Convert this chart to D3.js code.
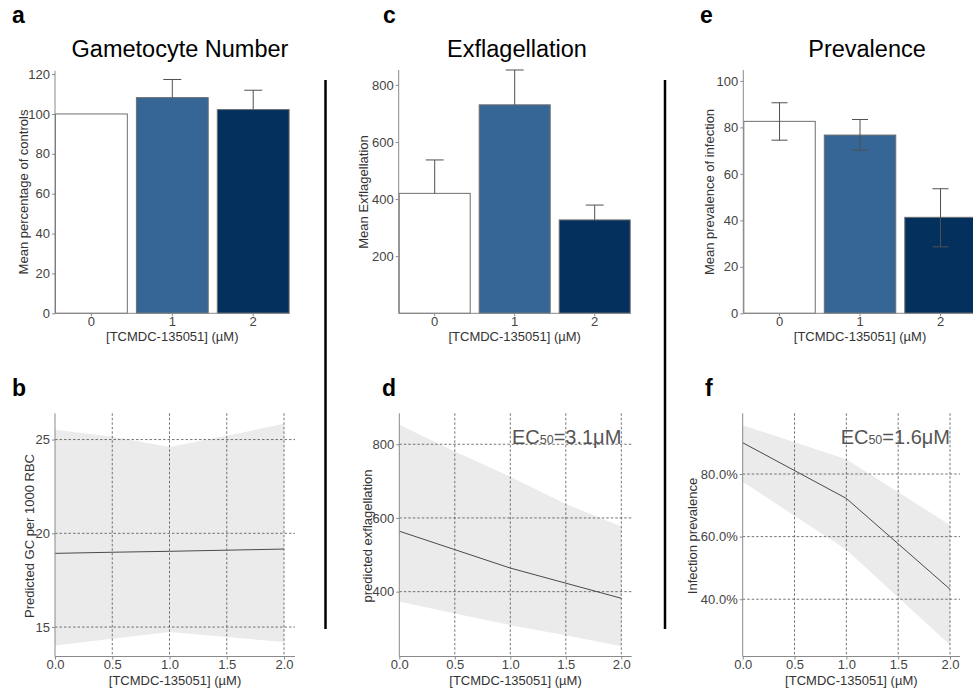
<!DOCTYPE html>
<html>
<head>
<meta charset="utf-8">
<script src="https://cdn.jsdelivr.net/npm/d3@7"></script>
<style>
  body { margin: 0; background: #fff; }
  svg { display: block; font-family: "Liberation Sans", Arial, sans-serif; }
  .tick text { fill: #444; font-size: 13px; }
  .tick line { stroke: #8a8a8a; }
  .axis-line { stroke: #8a8a8a; stroke-width: 1; }
  .axis-title { fill: #333; font-size: 13px; }
  .x-title { fill: #333; font-size: 13px; }
  .panel-title { fill: #000; font-size: 23.5px; }
  .panel-letter { fill: #000; font-size: 23px; font-weight: bold; }
  .grid { stroke: #505050; stroke-width: 0.8; stroke-dasharray: 2.5,2; }
  .ec50 { fill: #555; font-size: 20px; }
</style>
</head>
<body>
<svg id="chart" width="973" height="695"></svg>
<script>
// top row: bar charts
const doses = ['0', '1', '2']
const barColors = ['#ffffff', '#356696', '#04305e']

const gcMean = [100, 108.2, 102.2]
const gcHigh = [null, 117.3, 111.9]

const exflMean = [420, 730, 327]
const exflHigh = [537, 852, 379]

const prevMean = [82.6, 76.7, 41.3]
const prevLow = [74.5, 70.2, 28.6]
const prevHigh = [90.6, 83.4, 53.6]

// bottom row: model predictions
const conc5 = [0, 0.5, 1, 1.5, 2]
const conc3 = [0, 1, 2]

const gcFit = [18.93, 18.99, 19.04, 19.1, 19.16]
const gcFitLow = [14.02, 14.38, 14.73, 14.47, 14.2]
const gcFitHigh = [25.52, 25.15, 24.6, 25.2, 25.84]

const exflFit = [564, 514, 464, 423, 382]
const exflFitLow = [373, 341, 309, 282, 252]
const exflFitHigh = [853, 780, 712, 638, 577]

const prevFit = [0.90, 0.722, 0.432]
const prevFitLow = [0.775, 0.558, 0.254]
const prevFitHigh = [0.956, 0.847, 0.637]

const xLabel = '[TCMDC-135051] (\u00b5M)'

const $svg = d3.select('#chart')

function yTitle(x, y, text) {
  $svg.append('text')
    .attr('class', 'axis-title')
    .attr('transform', `translate(${x},${y}) rotate(-90)`)
    .attr('text-anchor', 'middle')
    .attr('dy', '0.35em')
    .text(text)
}

function barPanel(opt) {
  const xScale = d3.scaleBand()
    .domain(doses)
    .range([opt.x0 - opt.step * 0.05, opt.x0 + opt.step * 2.95])
    .paddingInner(0.1)
    .paddingOuter(0.05)
  const yScale = d3.scaleLinear()
    .domain([0, opt.yMax])
    .range([313.3, opt.yTopPx || 70])

  const $g = $svg.append('g')
  const rows = doses.map((d, i) => ({
    dose: d, mean: opt.mean[i],
    low: opt.low ? opt.low[i] : null,
    high: opt.high[i], color: barColors[i]
  }))

  $g.selectAll('.bar')
    .data(rows)
    .enter()
    .append('rect')
      .attr('class', 'bar')
      .attr('x', d => xScale(d.dose) + 0.5)
      .attr('y', d => yScale(d.mean))
      .attr('width', xScale.bandwidth() - 1)
      .attr('height', d => yScale(0) - yScale(d.mean))
      .attr('fill', d => d.color)
      .attr('stroke', '#6e6e6e')
      .attr('stroke-width', 1)

  const errs = rows.filter(d => d.high != null)
  const cx = d => xScale(d.dose) + xScale.bandwidth() / 2
  $g.selectAll('.err')
    .data(errs)
    .enter()
    .append('line')
      .attr('x1', cx).attr('x2', cx)
      .attr('y1', d => yScale(d.low != null ? d.low : d.mean))
      .attr('y2', d => yScale(d.high))
      .attr('stroke', '#505050')
  $g.selectAll('.cap-hi')
    .data(errs)
    .enter()
    .append('line')
      .attr('x1', d => cx(d) - opt.cap / 2).attr('x2', d => cx(d) + opt.cap / 2)
      .attr('y1', d => yScale(d.high)).attr('y2', d => yScale(d.high))
      .attr('stroke', '#505050')
  $g.selectAll('.cap-lo')
    .data(errs.filter(d => d.low != null))
    .enter()
    .append('line')
      .attr('x1', d => cx(d) - opt.cap / 2).attr('x2', d => cx(d) + opt.cap / 2)
      .attr('y1', d => yScale(d.low)).attr('y2', d => yScale(d.low))
      .attr('stroke', '#505050')

  // axes
  const xEnd = xScale(doses[2]) + xScale.bandwidth()
  $g.append('line').attr('class', 'axis-line')
    .attr('x1', opt.x0).attr('x2', xEnd)
    .attr('y1', yScale(0)).attr('y2', yScale(0))
  $g.append('line').attr('class', 'axis-line')
    .attr('x1', opt.x0).attr('x2', opt.x0)
    .attr('y1', yScale.range()[0]).attr('y2', yScale.range()[1])

  $g.append('g')
    .attr('transform', `translate(${opt.x0},0)`)
    .call(d3.axisLeft(yScale).tickValues(opt.ticks).tickSize(3).tickPadding(2))
    .call(g => g.select('.domain').remove())
  $g.append('g')
    .attr('transform', `translate(0,${yScale(0)})`)
    .call(d3.axisBottom(xScale).tickSize(3).tickPadding(0.5))
    .call(g => g.select('.domain').remove())

  const mid = opt.x0 + opt.step * 1.45
  $g.append('text').attr('class', 'x-title')
    .attr('x', mid).attr('y', 341)
    .attr('text-anchor', 'middle')
    .text(xLabel)
  $g.append('text').attr('class', 'panel-title')
    .attr('x', opt.titleX).attr('y', 57)
    .attr('text-anchor', 'middle')
    .text(opt.title)
  yTitle(opt.yTitleX, 192, opt.yTitle)
}

function fitPanel(opt) {
  const xScale = d3.scaleLinear().domain([0, 2]).range([opt.x0, opt.x1])
  const yScale = d3.scaleLinear().domain(opt.yDomain).range([656.5, 413.3])
  const rows = opt.conc.map((c, i) => ({
    c, fit: opt.fit[i], lo: opt.lo[i], hi: opt.hi[i]
  }))
  const $g = $svg.append('g')

  $g.append('path')
    .datum(rows)
    .attr('fill', '#ebebeb')
    .attr('d', d3.area().x(d => xScale(d.c)).y0(d => yScale(d.lo)).y1(d => yScale(d.hi)))

  // dashed grid
  $g.selectAll('.hgrid')
    .data(opt.ticks)
    .enter()
    .append('line')
      .attr('class', 'grid')
      .attr('x1', opt.x0).attr('x2', opt.xEnd)
      .attr('y1', d => yScale(d)).attr('y2', d => yScale(d))
  $g.selectAll('.vgrid')
    .data([0.5, 1, 1.5, 2])
    .enter()
    .append('line')
      .attr('class', 'grid')
      .attr('x1', d => xScale(d)).attr('x2', d => xScale(d))
      .attr('y1', yScale.range()[1]).attr('y2', yScale.range()[0])

  $g.append('path')
    .datum(rows)
    .attr('fill', 'none')
    .attr('stroke', '#4a4a4a')
    .attr('stroke-width', 1)
    .attr('d', d3.line().x(d => xScale(d.c)).y(d => yScale(d.fit)))

  // axes
  $g.append('line').attr('class', 'axis-line')
    .attr('x1', opt.x0).attr('x2', opt.xEnd)
    .attr('y1', yScale.range()[0]).attr('y2', yScale.range()[0])
  $g.append('line').attr('class', 'axis-line')
    .attr('x1', opt.x0).attr('x2', opt.x0)
    .attr('y1', yScale.range()[0]).attr('y2', yScale.range()[1])
  $g.append('g')
    .attr('transform', `translate(${opt.x0},0)`)
    .call(d3.axisLeft(yScale).tickValues(opt.ticks).tickFormat(opt.fmt).tickSize(3).tickPadding(2))
    .call(g => g.select('.domain').remove())
  $g.append('g')
    .attr('transform', `translate(0,${yScale.range()[0]})`)
    .call(d3.axisBottom(xScale).tickValues([0, 0.5, 1, 1.5, 2]).tickFormat(d3.format('.1f')).tickSize(3).tickPadding(0.5))
    .call(g => g.select('.domain').remove())

  $g.append('text').attr('class', 'x-title')
    .attr('x', (opt.x0 + opt.xEnd) / 2).attr('y', 685)
    .attr('text-anchor', 'middle')
    .text(xLabel)
  yTitle(opt.yTitleX, 536, opt.yTitle)

  if (opt.ec50) {
    const t = $g.append('text').attr('class', 'ec50')
      .attr('x', xScale(2)).attr('y', 444)
      .attr('text-anchor', 'end')
    t.append('tspan').text('EC')
    t.append('tspan').attr('font-size', '12.5px').text('50')
    t.append('tspan').text('=' + opt.ec50 + '\u03bcM')
  }
}

barPanel({
  x0: 55, step: 80.9, yMax: 121.7, yTopPx: 70.7,
  ticks: [0, 20, 40, 60, 80, 100, 120],
  mean: gcMean, high: gcHigh, cap: 18,
  title: 'Gametocyte Number', titleX: 180,
  yTitle: 'Mean percentage of controls', yTitleX: 23
})
barPanel({
  x0: 398.7, step: 80, yMax: 852,
  ticks: [200, 400, 600, 800],
  mean: exflMean, high: exflHigh, cap: 18,
  title: 'Exflagellation', titleX: 517,
  yTitle: 'Mean Exflagellation', yTitleX: 363
})
barPanel({
  x0: 743.3, step: 80.5, yMax: 104.7,
  ticks: [0, 20, 40, 60, 80, 100],
  mean: prevMean, low: prevLow, high: prevHigh, cap: 16,
  title: 'Prevalence', titleX: 867,
  yTitle: 'Mean prevalence of infection', yTitleX: 709
})

fitPanel({
  x0: 55, x1: 284, xEnd: 295, yDomain: [13.43, 26.4],
  ticks: [15, 20, 25], fmt: d3.format('d'),
  conc: conc5, fit: gcFit, lo: gcFitLow, hi: gcFitHigh,
  yTitle: 'Predicted GC per 1000 RBC', yTitleX: 29
})
fitPanel({
  x0: 399.3, x1: 621.3, xEnd: 631.7, yDomain: [224, 884],
  ticks: [400, 600, 800], fmt: d3.format('d'),
  conc: conc5, fit: exflFit, lo: exflFitLow, hi: exflFitHigh,
  yTitle: 'predicted exflagellation', yTitleX: 367, ec50: '3.1'
})
fitPanel({
  x0: 742.7, x1: 950, xEnd: 960, yDomain: [0.217, 0.994],
  ticks: [0.4, 0.6, 0.8], fmt: d3.format('.1%'),
  conc: conc3, fit: prevFit, lo: prevFitLow, hi: prevFitHigh,
  yTitle: 'Infection prevalence', yTitleX: 692, ec50: '1.6'
})

// separators between columns
$svg.selectAll('.sep')
  .data([325.5, 665])
  .enter()
  .append('line')
    .attr('x1', d => d).attr('x2', d => d)
    .attr('y1', 80).attr('y2', 629)
    .attr('stroke', '#000')
    .attr('stroke-width', 2.5)

// panel letters
const letters = [
  {t: 'a', x: 12, y: 23}, {t: 'c', x: 383, y: 23}, {t: 'e', x: 700, y: 23},
  {t: 'b', x: 12, y: 396}, {t: 'd', x: 382, y: 396}, {t: 'f', x: 705, y: 396}
]
$svg.selectAll('.panel-letter')
  .data(letters)
  .enter()
  .append('text')
    .attr('class', 'panel-letter')
    .attr('x', d => d.x).attr('y', d => d.y)
    .text(d => d.t)
</script>
</body>
</html>
